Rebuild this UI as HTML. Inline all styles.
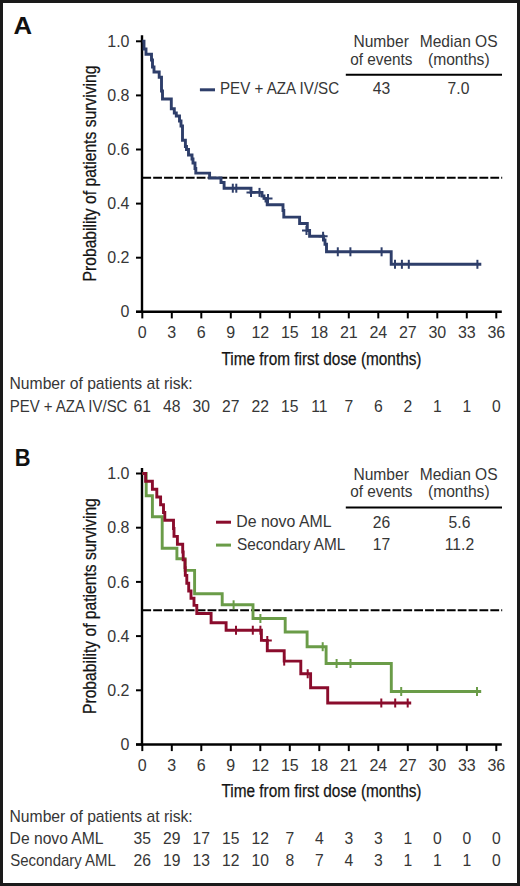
<!DOCTYPE html>
<html><head><meta charset="utf-8"><title>Kaplan-Meier overall survival</title>
<style>
html,body{margin:0;padding:0;background:#fff;}
body{width:520px;height:886px;overflow:hidden;font-family:"Liberation Sans", sans-serif;}
svg{display:block;}
</style></head>
<body>
<svg width="520" height="886" viewBox="0 0 520 886" font-family='"Liberation Sans", sans-serif' fill="#363636">
<rect x="0" y="0" width="520" height="886" fill="#fff"/>
<text x="13.5" y="34" font-size="23" font-weight="bold" fill="#111" textLength="18.6" lengthAdjust="spacingAndGlyphs">A</text>
<line x1="142" y1="35.3" x2="142" y2="313" stroke="#000" stroke-width="2.4"/>
<line x1="136" y1="311.8" x2="501.8" y2="311.8" stroke="#000" stroke-width="2.4"/>
<line x1="136" y1="311.8" x2="142" y2="311.8" stroke="#000" stroke-width="2"/>
<text x="129.5" y="317.4" text-anchor="end" font-size="16">0</text>
<line x1="136" y1="257.7" x2="142" y2="257.7" stroke="#000" stroke-width="2"/>
<text x="129.5" y="263.3" text-anchor="end" font-size="16">0.2</text>
<line x1="136" y1="203.6" x2="142" y2="203.6" stroke="#000" stroke-width="2"/>
<text x="129.5" y="209.2" text-anchor="end" font-size="16">0.4</text>
<line x1="136" y1="149.5" x2="142" y2="149.5" stroke="#000" stroke-width="2"/>
<text x="129.5" y="155.1" text-anchor="end" font-size="16">0.6</text>
<line x1="136" y1="95.4" x2="142" y2="95.4" stroke="#000" stroke-width="2"/>
<text x="129.5" y="101" text-anchor="end" font-size="16">0.8</text>
<line x1="136" y1="41.3" x2="142" y2="41.3" stroke="#000" stroke-width="2"/>
<text x="129.5" y="46.9" text-anchor="end" font-size="16">1.0</text>
<line x1="142.3" y1="311.8" x2="142.3" y2="318.4" stroke="#000" stroke-width="2"/>
<text x="142.3" y="338" text-anchor="middle" font-size="16">0</text>
<line x1="171.8" y1="311.8" x2="171.8" y2="318.4" stroke="#000" stroke-width="2"/>
<text x="171.8" y="338" text-anchor="middle" font-size="16">3</text>
<line x1="201.3" y1="311.8" x2="201.3" y2="318.4" stroke="#000" stroke-width="2"/>
<text x="201.3" y="338" text-anchor="middle" font-size="16">6</text>
<line x1="230.8" y1="311.8" x2="230.8" y2="318.4" stroke="#000" stroke-width="2"/>
<text x="230.8" y="338" text-anchor="middle" font-size="16">9</text>
<line x1="260.3" y1="311.8" x2="260.3" y2="318.4" stroke="#000" stroke-width="2"/>
<text x="260.3" y="338" text-anchor="middle" font-size="16">12</text>
<line x1="289.8" y1="311.8" x2="289.8" y2="318.4" stroke="#000" stroke-width="2"/>
<text x="289.8" y="338" text-anchor="middle" font-size="16">15</text>
<line x1="319.29" y1="311.8" x2="319.29" y2="318.4" stroke="#000" stroke-width="2"/>
<text x="319.29" y="338" text-anchor="middle" font-size="16">18</text>
<line x1="348.79" y1="311.8" x2="348.79" y2="318.4" stroke="#000" stroke-width="2"/>
<text x="348.79" y="338" text-anchor="middle" font-size="16">21</text>
<line x1="378.29" y1="311.8" x2="378.29" y2="318.4" stroke="#000" stroke-width="2"/>
<text x="378.29" y="338" text-anchor="middle" font-size="16">24</text>
<line x1="407.79" y1="311.8" x2="407.79" y2="318.4" stroke="#000" stroke-width="2"/>
<text x="407.79" y="338" text-anchor="middle" font-size="16">27</text>
<line x1="437.29" y1="311.8" x2="437.29" y2="318.4" stroke="#000" stroke-width="2"/>
<text x="437.29" y="338" text-anchor="middle" font-size="16">30</text>
<line x1="466.79" y1="311.8" x2="466.79" y2="318.4" stroke="#000" stroke-width="2"/>
<text x="466.79" y="338" text-anchor="middle" font-size="16">33</text>
<line x1="496.29" y1="311.8" x2="496.29" y2="318.4" stroke="#000" stroke-width="2"/>
<text x="496.29" y="338" text-anchor="middle" font-size="16">36</text>
<line x1="142.3" y1="177.75" x2="502.2" y2="177.75" stroke="#000" stroke-width="2" stroke-dasharray="8.8 2.076"/>
<text x="221.5" y="364.6" font-size="18" textLength="200" lengthAdjust="spacingAndGlyphs" fill="#141414" stroke="#141414" stroke-width="0.25">Time from first dose (months)</text>
<text transform="translate(95.6 281.4) rotate(-90)" x="0" y="0" font-size="18" textLength="215.8" lengthAdjust="spacingAndGlyphs" fill="#141414" stroke="#141414" stroke-width="0.25">Probability of patients surviving</text>
<text x="353.42" y="47.3" font-size="15.7" textLength="55.44" lengthAdjust="spacingAndGlyphs">Number</text>
<text x="350.16" y="64.5" font-size="15.7" textLength="62.3" lengthAdjust="spacingAndGlyphs">of events</text>
<text x="419.72" y="47.3" font-size="15.7" textLength="77.9" lengthAdjust="spacingAndGlyphs">Median OS</text>
<text x="427.93" y="64.5" font-size="15.7" textLength="61.75" lengthAdjust="spacingAndGlyphs">(months)</text>
<line x1="345.8" y1="74.8" x2="502" y2="74.8" stroke="#000" stroke-width="2"/>
<line x1="199.9" y1="89.8" x2="215" y2="89.8" stroke="#2e3e6a" stroke-width="3"/>
<text x="219.96" y="94.4" font-size="15.7" textLength="119.22" lengthAdjust="spacingAndGlyphs">PEV + AZA IV/SC</text>
<text x="381.6" y="94.1" text-anchor="middle" font-size="15.7">43</text>
<text x="458.5" y="94.1" text-anchor="middle" font-size="15.7">7.0</text>
<path d="M142.3,41.3 H144 V49 H146 V54.3 H151.5 V60 H152.5 V67 H154 V72 H159.2 V77.2 H161.5 V91 H162.5 V99 H171.3 V108.8 H174.3 V113 H176.3 V116 H179.5 V121 H181 V126 H182.5 V140.3 H185.4 V146.5 H186.5 V149.5 H188.5 V155 H192 V159 H193 V163 H195 V168.5 H195.8 V173.1 H209.6 V178 H221 V182.5 H224.1 V188.2 H251 V192.4 H262 V196 H264 V198.4 H266 V201 H267.2 V204.8 H283 V210.5 H283.8 V217.1 H299.6 V223.5 H307.3 V230.5 H309.6 V236.2 H323.5 V240 H325 V244.3 H326.5 V251.8 H391.2 V264.3 H481.3" stroke="#2e3e6a" stroke-width="2.9" fill="none" stroke-linejoin="miter" stroke-linecap="butt"/>
<path d="M232.8 183.7V192.7" stroke="#2e3e6a" stroke-width="2" fill="none"/>
<path d="M236.3 183.7V192.7" stroke="#2e3e6a" stroke-width="2" fill="none"/>
<path d="M251 187.9V196.9M246.5 192.4H255.5" stroke="#2e3e6a" stroke-width="2" fill="none"/>
<path d="M259.5 187.9V196.9" stroke="#2e3e6a" stroke-width="2" fill="none"/>
<path d="M268 193.9V202.9M263.5 198.4H272.5" stroke="#2e3e6a" stroke-width="2" fill="none"/>
<path d="M306.5 226V235M302 230.5H311" stroke="#2e3e6a" stroke-width="2" fill="none"/>
<path d="M323.1 231.7V240.7M318.6 236.2H327.6" stroke="#2e3e6a" stroke-width="2" fill="none"/>
<path d="M337.8 247.3V256.3" stroke="#2e3e6a" stroke-width="2" fill="none"/>
<path d="M350.4 247.3V256.3" stroke="#2e3e6a" stroke-width="2" fill="none"/>
<path d="M381.6 247.3V256.3" stroke="#2e3e6a" stroke-width="2" fill="none"/>
<path d="M395 259.8V268.8" stroke="#2e3e6a" stroke-width="2" fill="none"/>
<path d="M401.9 259.8V268.8" stroke="#2e3e6a" stroke-width="2" fill="none"/>
<path d="M408.8 259.8V268.8" stroke="#2e3e6a" stroke-width="2" fill="none"/>
<path d="M477.4 259.8V268.8" stroke="#2e3e6a" stroke-width="2" fill="none"/>
<text x="9.51" y="389.4" font-size="15.7" textLength="183.21" lengthAdjust="spacingAndGlyphs">Number of patients at risk:</text>
<text x="9.67" y="412" font-size="15.7" textLength="117.79" lengthAdjust="spacingAndGlyphs">PEV + AZA IV/SC</text>
<text x="142.3" y="412" text-anchor="middle" font-size="15.7">61</text>
<text x="171.8" y="412" text-anchor="middle" font-size="15.7">48</text>
<text x="201.3" y="412" text-anchor="middle" font-size="15.7">30</text>
<text x="230.8" y="412" text-anchor="middle" font-size="15.7">27</text>
<text x="260.3" y="412" text-anchor="middle" font-size="15.7">22</text>
<text x="289.8" y="412" text-anchor="middle" font-size="15.7">15</text>
<text x="319.29" y="412" text-anchor="middle" font-size="15.7">11</text>
<text x="348.79" y="412" text-anchor="middle" font-size="15.7">7</text>
<text x="378.29" y="412" text-anchor="middle" font-size="15.7">6</text>
<text x="407.79" y="412" text-anchor="middle" font-size="15.7">2</text>
<text x="437.29" y="412" text-anchor="middle" font-size="15.7">1</text>
<text x="466.79" y="412" text-anchor="middle" font-size="15.7">1</text>
<text x="496.29" y="412" text-anchor="middle" font-size="15.7">0</text>
<text x="14.7" y="465.9" font-size="23" font-weight="bold" fill="#111" textLength="15.8" lengthAdjust="spacingAndGlyphs">B</text>
<line x1="142" y1="467.9" x2="142" y2="745.7" stroke="#000" stroke-width="2.4"/>
<line x1="136" y1="744.5" x2="501.8" y2="744.5" stroke="#000" stroke-width="2.4"/>
<line x1="136" y1="744.5" x2="142" y2="744.5" stroke="#000" stroke-width="2"/>
<text x="129.5" y="750.1" text-anchor="end" font-size="16">0</text>
<line x1="136" y1="690.3" x2="142" y2="690.3" stroke="#000" stroke-width="2"/>
<text x="129.5" y="695.9" text-anchor="end" font-size="16">0.2</text>
<line x1="136" y1="636.1" x2="142" y2="636.1" stroke="#000" stroke-width="2"/>
<text x="129.5" y="641.7" text-anchor="end" font-size="16">0.4</text>
<line x1="136" y1="581.9" x2="142" y2="581.9" stroke="#000" stroke-width="2"/>
<text x="129.5" y="587.5" text-anchor="end" font-size="16">0.6</text>
<line x1="136" y1="527.7" x2="142" y2="527.7" stroke="#000" stroke-width="2"/>
<text x="129.5" y="533.3" text-anchor="end" font-size="16">0.8</text>
<line x1="136" y1="473.5" x2="142" y2="473.5" stroke="#000" stroke-width="2"/>
<text x="129.5" y="479.1" text-anchor="end" font-size="16">1.0</text>
<line x1="142.3" y1="744.5" x2="142.3" y2="751.1" stroke="#000" stroke-width="2"/>
<text x="142.3" y="770.7" text-anchor="middle" font-size="16">0</text>
<line x1="171.8" y1="744.5" x2="171.8" y2="751.1" stroke="#000" stroke-width="2"/>
<text x="171.8" y="770.7" text-anchor="middle" font-size="16">3</text>
<line x1="201.3" y1="744.5" x2="201.3" y2="751.1" stroke="#000" stroke-width="2"/>
<text x="201.3" y="770.7" text-anchor="middle" font-size="16">6</text>
<line x1="230.8" y1="744.5" x2="230.8" y2="751.1" stroke="#000" stroke-width="2"/>
<text x="230.8" y="770.7" text-anchor="middle" font-size="16">9</text>
<line x1="260.3" y1="744.5" x2="260.3" y2="751.1" stroke="#000" stroke-width="2"/>
<text x="260.3" y="770.7" text-anchor="middle" font-size="16">12</text>
<line x1="289.8" y1="744.5" x2="289.8" y2="751.1" stroke="#000" stroke-width="2"/>
<text x="289.8" y="770.7" text-anchor="middle" font-size="16">15</text>
<line x1="319.29" y1="744.5" x2="319.29" y2="751.1" stroke="#000" stroke-width="2"/>
<text x="319.29" y="770.7" text-anchor="middle" font-size="16">18</text>
<line x1="348.79" y1="744.5" x2="348.79" y2="751.1" stroke="#000" stroke-width="2"/>
<text x="348.79" y="770.7" text-anchor="middle" font-size="16">21</text>
<line x1="378.29" y1="744.5" x2="378.29" y2="751.1" stroke="#000" stroke-width="2"/>
<text x="378.29" y="770.7" text-anchor="middle" font-size="16">24</text>
<line x1="407.79" y1="744.5" x2="407.79" y2="751.1" stroke="#000" stroke-width="2"/>
<text x="407.79" y="770.7" text-anchor="middle" font-size="16">27</text>
<line x1="437.29" y1="744.5" x2="437.29" y2="751.1" stroke="#000" stroke-width="2"/>
<text x="437.29" y="770.7" text-anchor="middle" font-size="16">30</text>
<line x1="466.79" y1="744.5" x2="466.79" y2="751.1" stroke="#000" stroke-width="2"/>
<text x="466.79" y="770.7" text-anchor="middle" font-size="16">33</text>
<line x1="496.29" y1="744.5" x2="496.29" y2="751.1" stroke="#000" stroke-width="2"/>
<text x="496.29" y="770.7" text-anchor="middle" font-size="16">36</text>
<line x1="142.3" y1="610.2" x2="502.2" y2="610.2" stroke="#000" stroke-width="2" stroke-dasharray="8.8 2.076"/>
<text x="221.5" y="797.2" font-size="18" textLength="200" lengthAdjust="spacingAndGlyphs" fill="#141414" stroke="#141414" stroke-width="0.25">Time from first dose (months)</text>
<text transform="translate(95.6 714) rotate(-90)" x="0" y="0" font-size="18" textLength="215.8" lengthAdjust="spacingAndGlyphs" fill="#141414" stroke="#141414" stroke-width="0.25">Probability of patients surviving</text>
<text x="353.42" y="479.9" font-size="15.7" textLength="55.44" lengthAdjust="spacingAndGlyphs">Number</text>
<text x="350.16" y="497.1" font-size="15.7" textLength="62.3" lengthAdjust="spacingAndGlyphs">of events</text>
<text x="419.72" y="479.9" font-size="15.7" textLength="77.9" lengthAdjust="spacingAndGlyphs">Median OS</text>
<text x="427.93" y="497.1" font-size="15.7" textLength="61.75" lengthAdjust="spacingAndGlyphs">(months)</text>
<line x1="345.8" y1="507.4" x2="502" y2="507.4" stroke="#000" stroke-width="2"/>
<line x1="216" y1="522.2" x2="231" y2="522.2" stroke="#8a0c2c" stroke-width="3"/>
<line x1="216" y1="545.1" x2="231" y2="545.1" stroke="#6a9c48" stroke-width="3"/>
<text x="236.3" y="527.2" font-size="15.7" textLength="95.23" lengthAdjust="spacingAndGlyphs">De novo AML</text>
<text x="236.89" y="549.6" font-size="15.7" textLength="108.52" lengthAdjust="spacingAndGlyphs">Secondary AML</text>
<text x="381.6" y="527.6" text-anchor="middle" font-size="15.7">26</text>
<text x="459.5" y="527.6" text-anchor="middle" font-size="15.7">5.6</text>
<text x="381.6" y="550" text-anchor="middle" font-size="15.7">17</text>
<text x="459.5" y="550" text-anchor="middle" font-size="15.7">11.2</text>
<path d="M142.3,473.5 H146.2 V495.8 H152.4 V516.8 H162.2 V548.3 H176.9 V558.8 H185.1 V570.4 H194.6 V593.8 H222.2 V604.8 H253 V618.5 H285.2 V632 H307.1 V646.7 H326.1 V663.5 H391.3 V691.5 H481.2" stroke="#6a9c48" stroke-width="2.9" fill="none" stroke-linejoin="miter" stroke-linecap="butt"/>
<path d="M233.6 600.3V609.3" stroke="#6a9c48" stroke-width="2" fill="none"/>
<path d="M260.4 614V623" stroke="#6a9c48" stroke-width="2" fill="none"/>
<path d="M322.7 642.2V651.2" stroke="#6a9c48" stroke-width="2" fill="none"/>
<path d="M336.6 659V668" stroke="#6a9c48" stroke-width="2" fill="none"/>
<path d="M350.5 659V668" stroke="#6a9c48" stroke-width="2" fill="none"/>
<path d="M401.2 687V696" stroke="#6a9c48" stroke-width="2" fill="none"/>
<path d="M477 687V696" stroke="#6a9c48" stroke-width="2" fill="none"/>
<path d="M142.3,473.5 H145.6 V481.3 H152.4 V489.2 H156.8 V497 H160.6 V504.8 H163.5 V512.5 H164.8 V520.2 H173.5 V528.5 H174 V536.4 H177.4 V544.3 H182.7 V552 H183.2 V559.8 H185 V567.6 H185.3 V575.4 H186.8 V583.3 H188.7 V591 H191 V598.2 H194 V605.4 H196.8 V613.5 H211.1 V622.7 H226.1 V630.2 H261.4 V640.4 H267.3 V650.8 H284.2 V661.1 H300.8 V673.8 H310.6 V687.8 H327.7 V703 H411.2" stroke="#8a0c2c" stroke-width="2.9" fill="none" stroke-linejoin="miter" stroke-linecap="butt"/>
<path d="M236 625.7V634.7" stroke="#8a0c2c" stroke-width="2" fill="none"/>
<path d="M252.8 625.7V634.7" stroke="#8a0c2c" stroke-width="2" fill="none"/>
<path d="M260.4 625.7V634.7" stroke="#8a0c2c" stroke-width="2" fill="none"/>
<path d="M267.3 635.9V644.9M262.8 640.4H271.8" stroke="#8a0c2c" stroke-width="2" fill="none"/>
<path d="M284.2 656.6V665.6" stroke="#8a0c2c" stroke-width="2" fill="none"/>
<path d="M307.7 669.3V678.3" stroke="#8a0c2c" stroke-width="2" fill="none"/>
<path d="M381.3 698.5V707.5" stroke="#8a0c2c" stroke-width="2" fill="none"/>
<path d="M395.2 698.5V707.5" stroke="#8a0c2c" stroke-width="2" fill="none"/>
<path d="M407.7 698.5V707.5" stroke="#8a0c2c" stroke-width="2" fill="none"/>
<text x="9.51" y="821.7" font-size="15.7" textLength="183.21" lengthAdjust="spacingAndGlyphs">Number of patients at risk:</text>
<text x="9.62" y="844" font-size="15.7" textLength="93.91" lengthAdjust="spacingAndGlyphs">De novo AML</text>
<text x="142.3" y="844" text-anchor="middle" font-size="15.7">35</text>
<text x="171.8" y="844" text-anchor="middle" font-size="15.7">29</text>
<text x="201.3" y="844" text-anchor="middle" font-size="15.7">17</text>
<text x="230.8" y="844" text-anchor="middle" font-size="15.7">15</text>
<text x="260.3" y="844" text-anchor="middle" font-size="15.7">12</text>
<text x="289.8" y="844" text-anchor="middle" font-size="15.7">7</text>
<text x="319.29" y="844" text-anchor="middle" font-size="15.7">4</text>
<text x="348.79" y="844" text-anchor="middle" font-size="15.7">3</text>
<text x="378.29" y="844" text-anchor="middle" font-size="15.7">3</text>
<text x="407.79" y="844" text-anchor="middle" font-size="15.7">1</text>
<text x="437.29" y="844" text-anchor="middle" font-size="15.7">0</text>
<text x="466.79" y="844" text-anchor="middle" font-size="15.7">0</text>
<text x="496.29" y="844" text-anchor="middle" font-size="15.7">0</text>
<text x="10.21" y="866.3" font-size="15.7" textLength="105.69" lengthAdjust="spacingAndGlyphs">Secondary AML</text>
<text x="142.3" y="866.3" text-anchor="middle" font-size="15.7">26</text>
<text x="171.8" y="866.3" text-anchor="middle" font-size="15.7">19</text>
<text x="201.3" y="866.3" text-anchor="middle" font-size="15.7">13</text>
<text x="230.8" y="866.3" text-anchor="middle" font-size="15.7">12</text>
<text x="260.3" y="866.3" text-anchor="middle" font-size="15.7">10</text>
<text x="289.8" y="866.3" text-anchor="middle" font-size="15.7">8</text>
<text x="319.29" y="866.3" text-anchor="middle" font-size="15.7">7</text>
<text x="348.79" y="866.3" text-anchor="middle" font-size="15.7">4</text>
<text x="378.29" y="866.3" text-anchor="middle" font-size="15.7">3</text>
<text x="407.79" y="866.3" text-anchor="middle" font-size="15.7">1</text>
<text x="437.29" y="866.3" text-anchor="middle" font-size="15.7">1</text>
<text x="466.79" y="866.3" text-anchor="middle" font-size="15.7">1</text>
<text x="496.29" y="866.3" text-anchor="middle" font-size="15.7">0</text>
<rect x="1.5" y="1.5" width="517" height="883" fill="none" stroke="#1a1a1a" stroke-width="3"/>
</svg>
</body></html>
